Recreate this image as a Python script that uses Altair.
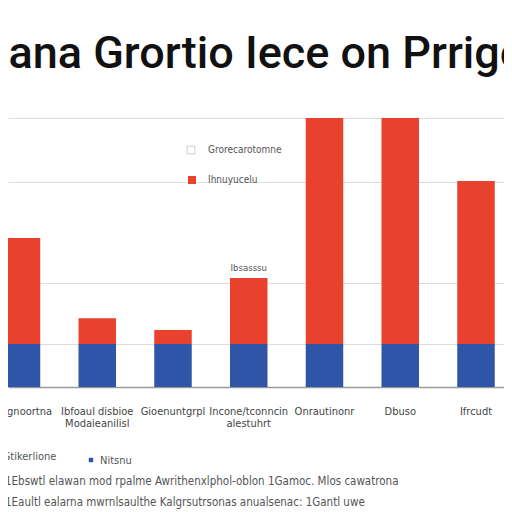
import altair as alt
import pandas as pd

# ---- data ----
title_text = ["Bana Grortio Iece on Prrige"]
categories = [
    "Uelgnoortna",
    "Ibfoaul disbioe\nModaieanilisl",
    "Gioenuntgrpl",
    "Incone/tconncin\nalestuhrt",
    "Onrautinonr",
    "Dbuso",
    "Ifrcudt",
]
blue_values = [16, 16, 16, 16, 16, 16, 16]
red_values = [39.4, 9.6, 5.2, 24.5, 84, 84, 60.6]
series_names = ["Nitsnu", "Ihnuyucelu"]
legend_labels = ["Grorecarotomne", "Ihnuyucelu"]
annotation_text = ["Ibsasssu"]
side_label = ["Stikerlione"]
footnotes = [
    "1Ebswtl elawan mod rpalme Awrithenxlphol-oblon  1Gamoc. Mlos cawatrona",
    "1Eaultl ealarna mwrnlsaulthe Kalgrsutrsonas anualsenac: 1Gantl uwe",
]
grid_values = [16, 38.7, 76.2, 100]

BLUE = "#2f55a8"
RED = "#e8412e"
FONT = "Liberation Sans Narrow, DejaVu Sans Condensed, sans-serif"

rows = []
for i, c in enumerate(categories):
    rows.append({"idx": i, "cat": c, "series": series_names[0], "value": blue_values[i], "order": 0})
    rows.append({"idx": i, "cat": c, "series": series_names[1], "value": red_values[i], "order": 1})
df_bars = pd.DataFrame(rows)
df_cats = pd.DataFrame({"idx": list(range(len(categories))), "cat": categories,
                        "total": [b + r for b, r in zip(blue_values, red_values)]})

xscale = alt.Scale(domain=[-0.1782, 6.3697], nice=False, zero=False)
yscale = alt.Scale(domain=[0, 100], nice=False)

bars = alt.Chart(df_bars).transform_stack(
    stack="value", groupby=["idx"], as_=["v0", "v1"], sort=[alt.SortField("order", order="ascending")]
).transform_calculate(
    xa="datum.idx - 0.2475", xb="datum.idx + 0.2475"
).mark_rect().encode(
    x=alt.X("xa:Q", scale=xscale,
            axis=alt.Axis(labels=False, ticks=False, grid=False, domain=True,
                          domainColor="#9a9a9a", domainWidth=1.5, title=None)),
    x2="xb:Q",
    y=alt.Y("v1:Q", scale=yscale,
            axis=alt.Axis(values=grid_values, labels=False, ticks=False, domain=False,
                          grid=True, gridColor="#dcdcdc", gridWidth=1, title=None)),
    y2="v0:Q",
    color=alt.Color("series:N", scale=alt.Scale(domain=series_names, range=[BLUE, RED]), legend=None),
)

xlabels = alt.Chart(df_cats).mark_text(
    lineBreak="\n", baseline="middle", align="center", fontSize=11, lineHeight=12,
    font=FONT, color="#444"
).encode(
    x=alt.X("idx:Q", scale=xscale),
    y=alt.value(294),
    text="cat:N",
)

annot = alt.Chart(df_cats.iloc[[3]].assign(note=annotation_text[0])).mark_text(
    baseline="bottom", dy=-5, fontSize=9.5, color="#555", font=FONT
).encode(
    x=alt.X("idx:Q", scale=xscale),
    y=alt.Y("total:Q", scale=yscale),
    text="note:N",
)

title = alt.Chart(pd.DataFrame({"t": title_text})).mark_text(
    font="Roboto", fontSize=45, fontWeight=500, color="#111", align="center",
    baseline="alphabetic"
).encode(x=alt.value(244), y=alt.value(-50), text="t:N")

leg_text1 = alt.Chart(pd.DataFrame({"label": [legend_labels[0]]})).mark_text(
    align="left", baseline="middle", fontSize=10, color="#555", font=FONT
).encode(x=alt.value(200), y=alt.value(32), text="label:N")
leg_text2 = alt.Chart(pd.DataFrame({"label": [legend_labels[1]]})).mark_text(
    align="left", baseline="middle", fontSize=10, color="#555", font=FONT
).encode(x=alt.value(200), y=alt.value(62), text="label:N")
leg_sym1 = alt.Chart(pd.DataFrame({"label": [legend_labels[0]]})).mark_square(
    filled=False, size=60, stroke="#bdbdbd", strokeWidth=1
).encode(x=alt.value(183), y=alt.value(32))
leg_sym2 = alt.Chart(pd.DataFrame({"label": [legend_labels[1]]})).mark_square(
    filled=True, size=64, color=RED, opacity=1
).encode(x=alt.value(184), y=alt.value(62))

side = alt.Chart(pd.DataFrame({"t": side_label})).mark_text(
    align="left", baseline="middle", fontSize=11, color="#555", font=FONT
).encode(x=alt.value(-4), y=alt.value(339), text="t:N")

blue_leg = alt.Chart(pd.DataFrame({"t": [series_names[0]]})).mark_text(
    align="left", baseline="middle", fontSize=11, color="#555", font=FONT
).encode(x=alt.value(92), y=alt.value(343), text="t:N")
blue_dot = alt.Chart(pd.DataFrame({"t": [series_names[0]]})).mark_square(
    filled=True, size=20, color=BLUE, opacity=1
).encode(x=alt.value(83), y=alt.value(342))

foot1 = alt.Chart(pd.DataFrame({"t": [footnotes[0]]})).mark_text(
    align="left", baseline="middle", fontSize=11.5, color="#555", font=FONT
).encode(x=alt.value(-3), y=alt.value(364), text="t:N")
foot2 = alt.Chart(pd.DataFrame({"t": [footnotes[1]]})).mark_text(
    align="left", baseline="middle", fontSize=11.5, color="#555", font=FONT
).encode(x=alt.value(-3), y=alt.value(385), text="t:N")

chart = alt.layer(
    bars, xlabels, annot, title, leg_text1, leg_text2, leg_sym1, leg_sym2,
    side, blue_leg, blue_dot, foot1, foot2
).properties(
    width=496, height=269,
    autosize=alt.AutoSizeParams(type="none"),
    padding={"left": 0, "top": 110, "right": 0, "bottom": 125},
    background="#ffffff",
).configure_view(stroke=None)

chart.save("out.html", embed_options={"renderer": "svg", "actions": False})
